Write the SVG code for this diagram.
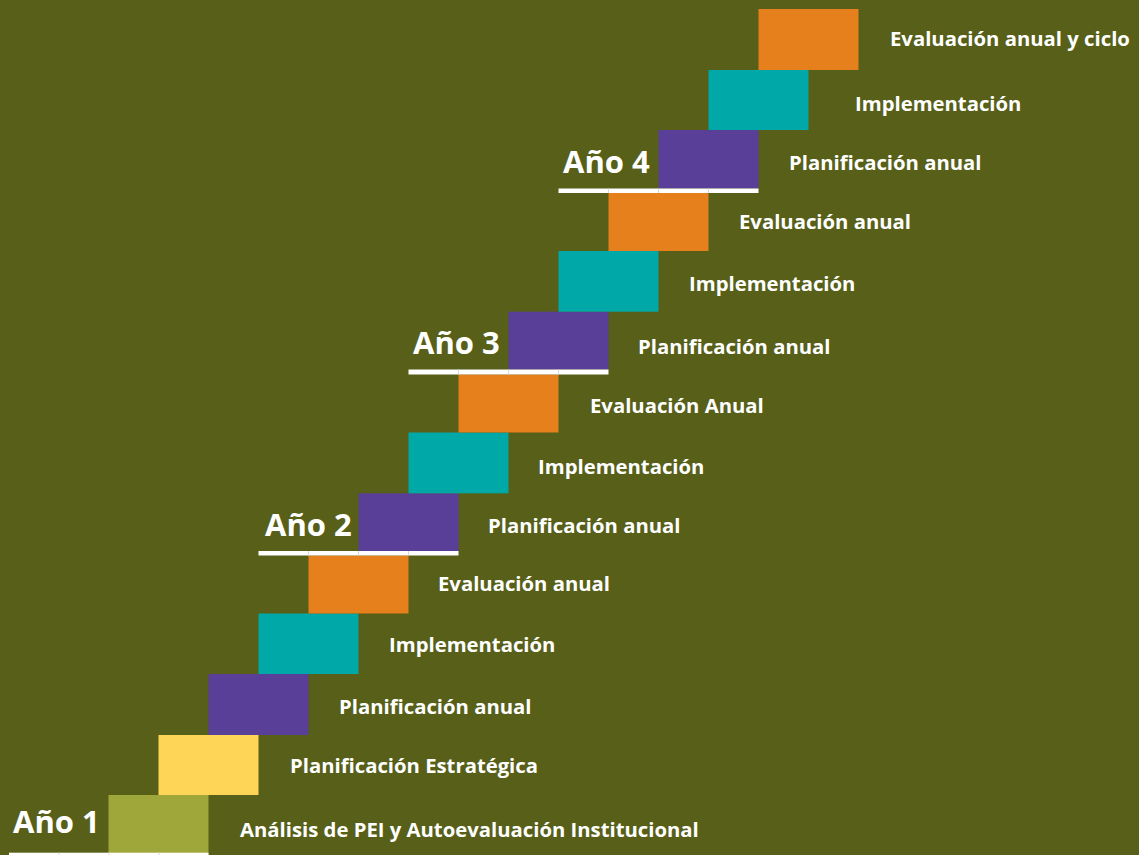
<svg xmlns="http://www.w3.org/2000/svg" width="1139" height="855" viewBox="0 0 1139 855">
<style>
.lbl{font-family:"Open Sans","Liberation Sans",sans-serif;font-weight:700;font-size:20.3px;fill:#ffffff}
.yr{font-family:"Open Sans","Liberation Sans",sans-serif;font-weight:700;font-size:31px;fill:#ffffff}
.olive{fill:#9fa73b}.yellow{fill:#ffd558}.purple{fill:#5a3f98}.teal{fill:#00a8a8}.orange{fill:#e5801d}
.bar{fill:#ffffff}.div{fill:#d9d9d9}
</style>
<rect x="0" y="0" width="1139" height="855" fill="#575f19"/>
<g id="steps">
<g id="step1"><rect class="olive" x="108.5" y="795" width="100" height="60"/></g>
<g id="step2"><rect class="yellow" x="158.5" y="735" width="100" height="60"/></g>
<g id="step3"><rect class="purple" x="208.5" y="674" width="100" height="61"/></g>
<g id="step4"><rect class="teal" x="258.5" y="613.5" width="100" height="60.5"/></g>
<g id="step5"><rect class="orange" x="308.5" y="555.5" width="100" height="58"/></g>
<g id="step6"><rect class="purple" x="358.5" y="493.3" width="100" height="57.7"/></g>
<g id="step7"><rect class="teal" x="408.5" y="432.5" width="100" height="60.8"/></g>
<g id="step8"><rect class="orange" x="458.5" y="374.5" width="100" height="58"/></g>
<g id="step9"><rect class="purple" x="508.5" y="311.7" width="100" height="57.8"/></g>
<g id="step10"><rect class="teal" x="558.5" y="251" width="100" height="60.7"/></g>
<g id="step11"><rect class="orange" x="608.5" y="193" width="100" height="58"/></g>
<g id="step12"><rect class="purple" x="658.5" y="130" width="100" height="58.5"/></g>
<g id="step13"><rect class="teal" x="708.5" y="70" width="100" height="60"/></g>
<g id="step14"><rect class="orange" x="758.5" y="9" width="100" height="61"/></g>
</g>
<g id="year1">
<rect class="bar" x="9" y="852.7" width="199.5" height="2.3"/>
<rect class="div" x="58.5" y="852.7" width="1" height="2.3"/><rect class="div" x="108.5" y="852.7" width="1" height="2.3"/><rect class="div" x="158.5" y="852.7" width="1" height="2.3"/>
<text class="yr" x="13" y="833.3">Año 1</text>
</g>
<g id="year2">
<rect class="bar" x="258.5" y="551" width="200" height="4.5"/>
<rect class="div" x="308" y="551" width="1" height="4.5"/><rect class="div" x="358" y="551" width="1" height="4.5"/><rect class="div" x="408" y="551" width="1" height="4.5"/>
<text class="yr" x="265" y="535.7">Año 2</text>
</g>
<g id="year3">
<rect class="bar" x="408.5" y="369.5" width="200" height="5"/>
<rect class="div" x="458" y="369.5" width="1" height="5"/><rect class="div" x="508" y="369.5" width="1" height="5"/><rect class="div" x="558" y="369.5" width="1" height="5"/>
<text class="yr" x="413" y="354">Año 3</text>
</g>
<g id="year4">
<rect class="bar" x="558.5" y="188.5" width="200" height="4.5"/>
<rect class="div" x="608" y="188.5" width="1" height="4.5"/><rect class="div" x="658" y="188.5" width="1" height="4.5"/><rect class="div" x="708" y="188.5" width="1" height="4.5"/>
<text class="yr" x="563" y="172.7">Año 4</text>
</g>
<g id="labels">
<text class="lbl" x="890" y="45.5">Evaluación anual y ciclo</text>
<text class="lbl" x="855" y="110.7">Implementación</text>
<text class="lbl" x="789" y="169.5">Planificación anual</text>
<text class="lbl" x="739" y="228.5">Evaluación anual</text>
<text class="lbl" x="689" y="290.5">Implementación</text>
<text class="lbl" x="638" y="353.5">Planificación anual</text>
<text class="lbl" x="590" y="412.5">Evaluación Anual</text>
<text class="lbl" x="538" y="473.5">Implementación</text>
<text class="lbl" x="488" y="533">Planificación anual</text>
<text class="lbl" x="438" y="591">Evaluación anual</text>
<text class="lbl" x="389" y="651.7">Implementación</text>
<text class="lbl" x="339" y="714.3">Planificación anual</text>
<text class="lbl" x="290" y="773">Planificación Estratégica</text>
<text class="lbl" x="240" y="836.7">Análisis de PEI y Autoevaluación Institucional</text>
</g>
<g id="connectors"></g>
</svg>
